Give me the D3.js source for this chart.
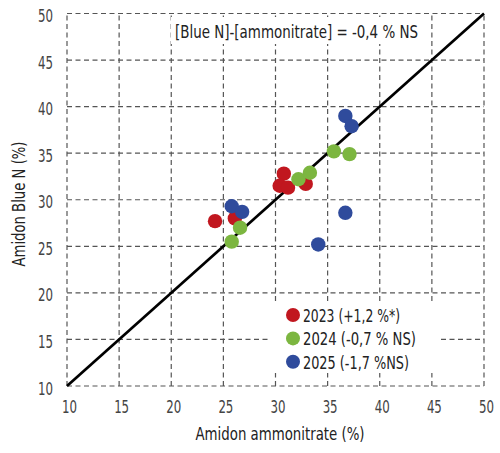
<!DOCTYPE html>
<html><head><meta charset="utf-8">
<script src="https://cdn.jsdelivr.net/npm/d3@7"></script>
<style>
html,body{margin:0;padding:0;background:#fff;}
text{font-family:"DejaVu Sans Condensed","DejaVu Sans",sans-serif;}
</style></head>
<body><svg id="chart" width="500" height="453"></svg>
<script>
const ticks = [10,15,20,25,30,35,40,45,50];
const series = ["2023 (+1,2 %*)","2024 (-0,7 % NS)","2025 (-1,7 %NS)"];
const colors = ["#c1171f","#7cb640","#2f4b9c"];
const x2023 = [24.2,26.1,30.8,30.4,31.2,32.9];
const y2023 = [27.7,28.0,32.8,31.5,31.3,31.7];
const x2024 = [25.8,26.6,32.2,33.3,35.6,37.1];
const y2024 = [25.5,27.0,32.2,32.9,35.2,34.9];
const x2025 = [25.8,26.8,36.7,37.3,36.7,34.1];
const y2025 = [29.3,28.7,39.0,37.9,28.6,25.2];
const titleText = "[Blue N]-[ammonitrate] = -0,4 % NS";
const xTitle = "Amidon ammonitrate (%)";
const yTitle = "Amidon Blue N (%)";

const svg = d3.select("#chart");
const x = d3.scaleLinear().domain([10,50]).range([67,484]);
const y = d3.scaleLinear().domain([10,50]).range([386,13.5]);
const gridCol = "#555";

// fit text to a target width (condensed look)
function fit(sel, w){
  sel.each(function(d,i){
    const width = typeof w === "function" ? w(d,i) : w;
    d3.select(this).attr("textLength", width).attr("lengthAdjust","spacingAndGlyphs");
  });
}

// grid
const g = svg.append("g");
g.selectAll(".vg").data(ticks).join("line")
  .attr("x1",d=>x(d)).attr("x2",d=>x(d)).attr("y1",y(10)).attr("y2",y(50))
  .attr("stroke",gridCol).attr("stroke-width",1.2).attr("stroke-dasharray","5,3.5");
g.selectAll(".hg").data(ticks).join("line")
  .attr("y1",d=>y(d)).attr("y2",d=>y(d)).attr("x1",x(10)).attr("x2",x(50))
  .attr("stroke",gridCol).attr("stroke-width",1.2).attr("stroke-dasharray","5,3.5");

// title box
svg.append("rect").attr("x",171).attr("y",17).attr("width",254).attr("height",27).attr("fill","#fff");
svg.append("text").attr("x",296.5).attr("y",37.5).attr("text-anchor","middle")
  .attr("font-size",18).attr("fill","#222").text(titleText).call(fit,243);

// axes labels
const xa = d3.axisBottom(x).tickValues(ticks).tickSize(0).tickPadding(0);
const xg = svg.append("g").attr("transform",`translate(0,${y(10)})`).call(xa);
xg.select(".domain").remove();
xg.selectAll("text").attr("dy",0).attr("y",27).attr("dx",2).attr("font-size",18).attr("fill","#444")
  .style("font-family",'"DejaVu Sans Condensed","DejaVu Sans",sans-serif').call(fit,15);
const ya = d3.axisLeft(y).tickValues(ticks).tickSize(0).tickPadding(0);
const yg = svg.append("g").attr("transform",`translate(${x(10)},0)`).call(ya);
yg.select(".domain").remove();
yg.selectAll("text").attr("x",-14).attr("dy","0.45em").attr("font-size",18).attr("fill","#444")
  .style("font-family",'"DejaVu Sans Condensed","DejaVu Sans",sans-serif').call(fit,15);

svg.append("text").attr("x",280).attr("y",440).attr("text-anchor","middle")
  .attr("font-size",17).attr("fill","#222").text(xTitle).call(fit,169);
svg.append("text").attr("transform",`translate(25,204) rotate(-90)`)
  .attr("text-anchor","middle").attr("font-size",17).attr("fill","#222").text(yTitle).call(fit,125);

// diagonal
const line = d3.line().x(d=>x(d)).y(d=>y(d));
svg.append("path").attr("d",line([10,50])).attr("stroke","#000").attr("stroke-width",2.7).attr("fill","none");

// points
const data = [[x2023,y2023],[x2024,y2024],[x2025,y2025]];
data.forEach(([xs,ys],i)=>{
  svg.append("g").selectAll("circle").data(xs.map((v,j)=>[v,ys[j]])).join("circle")
    .attr("cx",d=>x(d[0])).attr("cy",d=>y(d[1])).attr("r",7.2).attr("fill",colors[i]);
});

// legend
const legendW = [97,113,106];
svg.append("rect").attr("x",268).attr("y",302).attr("width",172).attr("height",71).attr("fill","#fff");
const lg = svg.append("g").selectAll("g").data(series).join("g")
  .attr("transform",(d,i)=>`translate(293,${315+i*23.4})`);
lg.append("circle").attr("r",7).attr("fill",(d,i)=>colors[i]);
lg.append("text").attr("x",10).attr("dy","0.4em").attr("font-size",17).attr("fill","#222").text(d=>d)
  .call(fit,(d,i)=>legendW[i]);
</script></body></html>
